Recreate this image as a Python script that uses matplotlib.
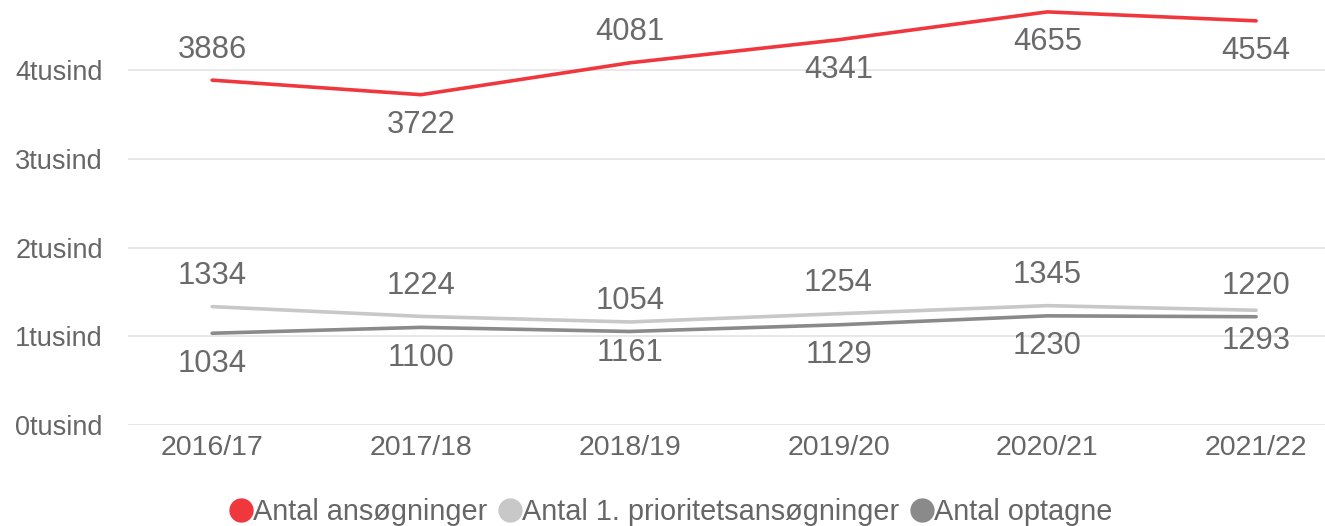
import matplotlib.pyplot as plt
from matplotlib.lines import Line2D

plt.rcParams['font.family'] = ['Liberation Sans', 'DejaVu Sans']

years = ["2016/17", "2017/18", "2018/19", "2019/20", "2020/21", "2021/22"]
ansoegninger = [3886, 3722, 4081, 4341, 4655, 4554]
prioritet = [1334, 1224, 1161, 1254, 1345, 1293]
optagne = [1034, 1100, 1054, 1129, 1230, 1220]
yticks = [0, 1000, 2000, 3000, 4000]
ytick_labels = ["0tusind", "1tusind", "2tusind", "3tusind", "4tusind"]

# label side per point: 1 = above, -1 = below
series = [
    ("Antal ansøgninger", ansoegninger, "#f0373d", [1, -1, 1, -1, -1, -1]),
    ("Antal 1. prioritetsansøgninger", prioritet, "#c8c8c8", [1, 1, -1, 1, 1, -1]),
    ("Antal optagne", optagne, "#8a8a8a", [-1, -1, 1, -1, -1, 1]),
]

fig = plt.figure(figsize=(13.25, 5.26), dpi=100)
ax = fig.add_axes([128 / 1325, (526 - 425) / 526, 1 - 128 / 1325, 425 / 526])

x = range(len(years))
handles = []
for name, vals, col, sides in series:
    ax.plot(x, vals, color=col, lw=2.6, solid_capstyle='round', zorder=3)
    for xi, v, s in zip(x, vals, sides):
        ax.annotate(str(v), (xi, v), xytext=(0, 22 * s), textcoords='offset points',
                    ha='center', va='center', fontsize=22.3, color='#6a6a6a')
    handles.append(Line2D([], [], ls='none', marker='o', ms=16.5, color=col, label=name))

ax.set_xlim(-0.403, 5.33)
ax.set_ylim(0, 4789)
ax.set_xticks(list(x))
ax.set_xticklabels(years)
ax.set_yticks(yticks)
ax.set_yticklabels(ytick_labels)
ax.grid(axis='y', color='#e8e8e8', lw=1.4)
ax.set_axisbelow(True)
for sp in ax.spines.values():
    sp.set_visible(False)
ax.tick_params(axis='both', length=0, labelsize=19.5, labelcolor='#666666')
ax.tick_params(axis='x', labelsize=20.5, pad=7)
ax.tick_params(axis='y', pad=18)

fig.legend(handles=handles, loc='center', bbox_to_anchor=(0.5 + 9 / 1325, 1 - 512 / 526), ncol=3,
           frameon=False, fontsize=20.8, handlelength=0.7, handletextpad=0.05,
           columnspacing=0.45, labelcolor='#666666', borderpad=0)

fig.savefig("out.png", dpi=100)
